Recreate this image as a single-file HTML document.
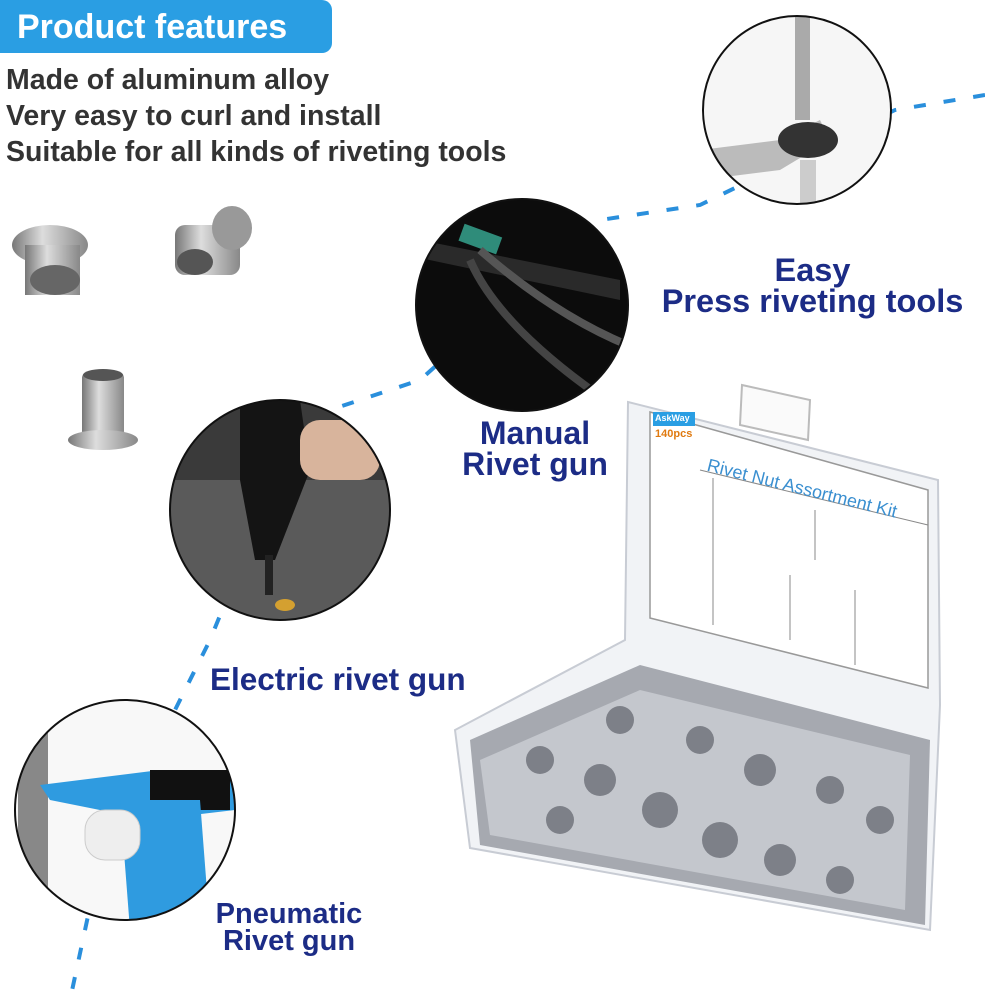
<!DOCTYPE html>
<html><head><meta charset="utf-8"><style>
html,body{margin:0;padding:0;background:#fff;}
body{width:985px;height:1000px;position:relative;overflow:hidden;font-family:"Liberation Sans",sans-serif;}
.t{position:absolute;font-weight:bold;white-space:nowrap;}
.n{color:#1c2c86;}
</style></head><body>
<svg width="985" height="1000" style="position:absolute;left:0;top:0">
<defs>
<linearGradient id="rv" x1="0" x2="1"><stop offset="0" stop-color="#777"/><stop offset=".4" stop-color="#ddd"/><stop offset="1" stop-color="#888"/></linearGradient>
<clipPath id="c1"><circle cx="797" cy="110" r="94"/></clipPath>
<clipPath id="c2"><circle cx="522" cy="305" r="106"/></clipPath>
<clipPath id="c3"><circle cx="280" cy="510" r="110"/></clipPath>
<clipPath id="c4"><circle cx="125" cy="810" r="110"/></clipPath>
</defs>
<polyline points="985,95 895,110 700,205 600,220 420,380 300,420 210,640 180,700 100,860 70,1000" fill="none" stroke="#2a8fdc" stroke-width="4" stroke-dasharray="12,18"/>
<rect x="-10" y="0" width="342" height="53" rx="10" fill="#2a9ee3"/>
<g>
<ellipse cx="50" cy="245" rx="38" ry="20" fill="url(#rv)"/><rect x="25" y="245" width="55" height="50" fill="url(#rv)"/><ellipse cx="55" cy="280" rx="25" ry="15" fill="#666"/>
<rect x="175" y="225" width="65" height="50" rx="10" fill="url(#rv)"/><ellipse cx="232" cy="228" rx="20" ry="22" fill="#999"/><ellipse cx="195" cy="262" rx="18" ry="13" fill="#555"/>
<rect x="82" y="372" width="42" height="65" rx="6" fill="url(#rv)"/><ellipse cx="103" cy="440" rx="35" ry="10" fill="url(#rv)"/><ellipse cx="103" cy="375" rx="20" ry="6" fill="#555"/>
</g>
<g clip-path="url(#c1)"><rect x="700" y="10" width="200" height="200" fill="#f6f6f6"/>
<rect x="795" y="10" width="15" height="110" fill="#aaa"/>
<path d="M700,150 L780,140 L820,120 L830,140 L780,170 L700,180Z" fill="#bbb"/>
<ellipse cx="808" cy="140" rx="30" ry="18" fill="#333"/><rect x="800" y="160" width="16" height="45" fill="#ccc"/></g>
<circle cx="797" cy="110" r="94" fill="none" stroke="#111" stroke-width="2"/>
<g clip-path="url(#c2)"><rect x="410" y="195" width="230" height="220" fill="#0c0c0c"/>
<path d="M420,240 L620,280 L620,300 L420,258Z" fill="#2a2a2a"/>
<rect x="460" y="230" width="40" height="18" fill="#2f8c7a" transform="rotate(20 480 240)"/>
<path d="M480,250 Q560,320 640,350" stroke="#555" stroke-width="8" fill="none"/>
<path d="M470,260 Q500,330 620,410" stroke="#444" stroke-width="8" fill="none"/></g>
<circle cx="522" cy="305" r="106" fill="none" stroke="#111" stroke-width="2"/>
<g clip-path="url(#c3)"><rect x="165" y="395" width="230" height="230" fill="#3a3a3a"/>
<rect x="165" y="480" width="230" height="145" fill="#5a5a5a"/>
<path d="M240,400 L300,400 L310,470 L275,560 L255,560 L240,480Z" fill="#141414"/>
<rect x="300" y="420" width="80" height="60" rx="20" fill="#d8b49c"/>
<rect x="265" y="555" width="8" height="40" fill="#222"/>
<ellipse cx="285" cy="605" rx="10" ry="6" fill="#d4a030"/></g>
<circle cx="280" cy="510" r="110" fill="none" stroke="#111" stroke-width="2"/>
<g clip-path="url(#c4)"><rect x="10" y="700" width="230" height="230" fill="#f8f8f8"/>
<rect x="18" y="730" width="30" height="200" fill="#888"/>
<path d="M40,785 L160,770 L230,770 L235,810 L150,820 L50,800Z" fill="#2f9be0"/>
<rect x="150" y="770" width="80" height="40" fill="#111"/>
<path d="M120,800 L200,800 L210,930 L130,930Z" fill="#2f9be0"/>
<rect x="85" y="810" width="55" height="50" rx="20" fill="#eee" stroke="#ccc"/></g>
<circle cx="125" cy="810" r="110" fill="none" stroke="#111" stroke-width="2"/>
<path d="M628,402 L938,480 L940,705 L930,930 L470,848 L455,730 L625,640Z" fill="#f1f3f6" stroke="#c8ccd4" stroke-width="2"/>
<path d="M742,385 L810,400 L808,440 L740,425Z" fill="#fafafa" stroke="#bbb" stroke-width="2"/>
<path d="M650,412 L928,490 L928,688 L650,618Z" fill="#fff" stroke="#999" stroke-width="1.5"/>
<path d="M700,470 L928,525 M713,478 L713,625 M790,575 L790,640 M855,590 L855,665 M815,510 L815,560" stroke="#888" fill="none"/>
<path d="M470,740 L640,665 L930,740 L925,925 L480,845Z" fill="#a6a9b0"/>
<path d="M480,760 L640,690 L910,755 L905,910 L490,835Z" fill="#c4c7cd"/>
<g fill="#7d8088"><circle cx="540" cy="760" r="14"/><circle cx="600" cy="780" r="16"/><circle cx="660" cy="810" r="18"/><circle cx="720" cy="840" r="18"/><circle cx="780" cy="860" r="16"/><circle cx="840" cy="880" r="14"/><circle cx="700" cy="740" r="14"/><circle cx="760" cy="770" r="16"/><circle cx="830" cy="790" r="14"/><circle cx="880" cy="820" r="14"/><circle cx="620" cy="720" r="14"/><circle cx="560" cy="820" r="14"/></g>
<rect x="653" y="412" width="42" height="14" fill="#2a9ee3"/>
</svg>
<div class="t" style="left:17px;top:8px;font-size:34px;color:#fff;">Product features</div>
<div class="t" style="left:6px;top:62px;font-size:28.5px;color:#333;line-height:36px;">Made of aluminum alloy<br>Very easy to curl and install<br>Suitable for all kinds of riveting tools</div>
<div class="t n" style="left:660px;top:255px;width:305px;text-align:center;font-size:32.5px;line-height:31px;">Easy<br>Press riveting tools</div>
<div class="t n" style="left:450px;top:418px;width:170px;text-align:center;font-size:32px;line-height:31px;">Manual<br>Rivet gun</div>
<div class="t n" style="left:210px;top:661px;font-size:31.5px;">Electric rivet gun</div>
<div class="t n" style="left:209px;top:901px;width:160px;text-align:center;font-size:29px;line-height:27px;">Pneumatic<br>Rivet gun</div>
<div class="t" style="left:655px;top:413px;font-size:9px;color:#fff;">AskWay</div>
<div class="t" style="left:655px;top:428px;font-size:11px;color:#e07a10;">140pcs</div>
<div style="position:absolute;left:710px;top:455px;font-size:18px;color:#3a8fd0;transform:rotate(14deg);transform-origin:left top;white-space:nowrap;">Rivet Nut Assortment Kit</div>
</body></html>
